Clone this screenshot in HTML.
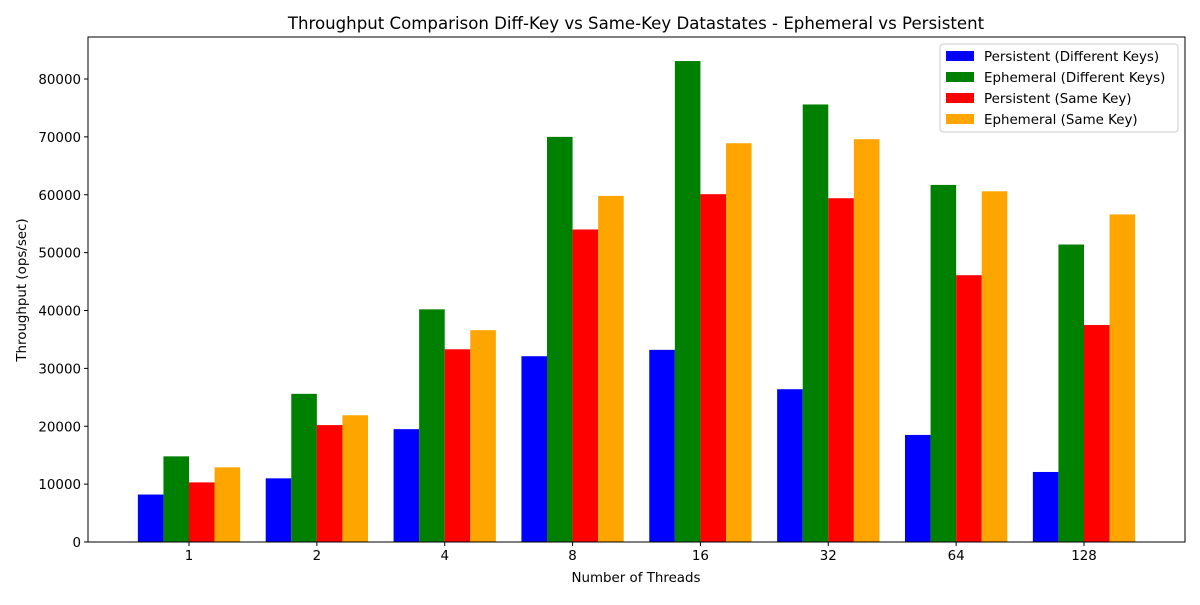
<!DOCTYPE html>
<html><head><meta charset="utf-8"><style>
body{margin:0;background:#fff;}
svg{font-family:"DejaVu Sans","Liberation Sans",sans-serif;}
</style></head><body>
<svg id="chart" width="1200" height="600">
<text x="636" y="29" font-size="16.6" text-anchor="middle">Throughput Comparison Diff-Key vs Same-Key Datastates - Ephemeral vs Persistent</text>
<g id="bars"></g>
<g id="axes"></g>
<rect x="88" y="37" width="1097" height="505" fill="none" stroke="#000" stroke-width="1"/>
<text x="636" y="582" font-size="13.4" text-anchor="middle">Number of Threads</text>
<text transform="translate(26,290) rotate(-90)" font-size="13.4" text-anchor="middle">Throughput (ops/sec)</text>
<g id="legend">
<rect x="940" y="44" width="238" height="88" fill="#fff" fill-opacity="0.8" stroke="#ccc" rx="3"/>
</g>
</svg>
<script>
const categories = ["1","2","4","8","16","32","64","128"];
const persistentDiff = [8200, 11000, 19500, 32100, 33200, 26400, 18500, 12100];
const ephemeralDiff = [14800, 25600, 40200, 70000, 83100, 75600, 61700, 51400];
const persistentSame = [10300, 20200, 33300, 54000, 60100, 59400, 46100, 37500];
const ephemeralSame = [12900, 21900, 36600, 59800, 68900, 69600, 60600, 56600];
const seriesNames = ["Persistent (Different Keys)","Ephemeral (Different Keys)","Persistent (Same Key)","Ephemeral (Same Key)"];
const yTicks = [0,10000,20000,30000,40000,50000,60000,70000,80000];

const NS="http://www.w3.org/2000/svg";
const series=[persistentDiff,ephemeralDiff,persistentSame,ephemeralSame];
const colors=["#0000ff","#008000","#ff0000","#ffa500"];
const x0=88,x1=1185,yB=542;
const xmin=-0.79,xmax=7.79;
function xs(v){return x0+(v-xmin)/(xmax-xmin)*(x1-x0);}
function ys(v){return yB-v*(542-79)/80000;}
function mk(tag,attrs,parent){const e=document.createElementNS(NS,tag);for(const k in attrs)e.setAttribute(k,attrs[k]);parent.appendChild(e);return e;}
const bars=document.getElementById('bars'),axes=document.getElementById('axes'),legend=document.getElementById('legend');
const w=0.2;
series.forEach((s,si)=>{
  s.forEach((v,i)=>{
    const c=i+(si-1.5)*w;
    const r=mk('rect',{x:xs(c-w/2),y:ys(v),width:xs(c+w/2)-xs(c-w/2),height:yB-ys(v),fill:colors[si]},bars);
    
    
  });
});
categories.forEach((c,i)=>{
  const x=xs(i);
  const t=mk('line',{x1:x,x2:x,y1:yB,y2:yB+4,stroke:'#000'},axes);
  
  
  const l=mk('text',{x:x,y:yB+18,'font-size':13.4,'text-anchor':'middle'},axes);
  l.textContent=c;
  
  
});
yTicks.forEach(v=>{
  const y=ys(v);
  const t=mk('line',{x1:x0-4,x2:x0,y1:y,y2:y,stroke:'#000'},axes);
  
  
  const l=mk('text',{x:x0-7,y:y+5,'font-size':13.4,'text-anchor':'end'},axes);
  l.textContent=v;
  
  
});
seriesNames.forEach((n,i)=>{
  const y=56+i*21;
  const p=mk('rect',{x:946,y:y-5,width:28,height:10,fill:colors[i]},legend);
  
  
  const t=mk('text',{x:984,y:y+5,'font-size':13.4},legend);
  t.textContent=n;
  
  
});
</script>
</body></html>
